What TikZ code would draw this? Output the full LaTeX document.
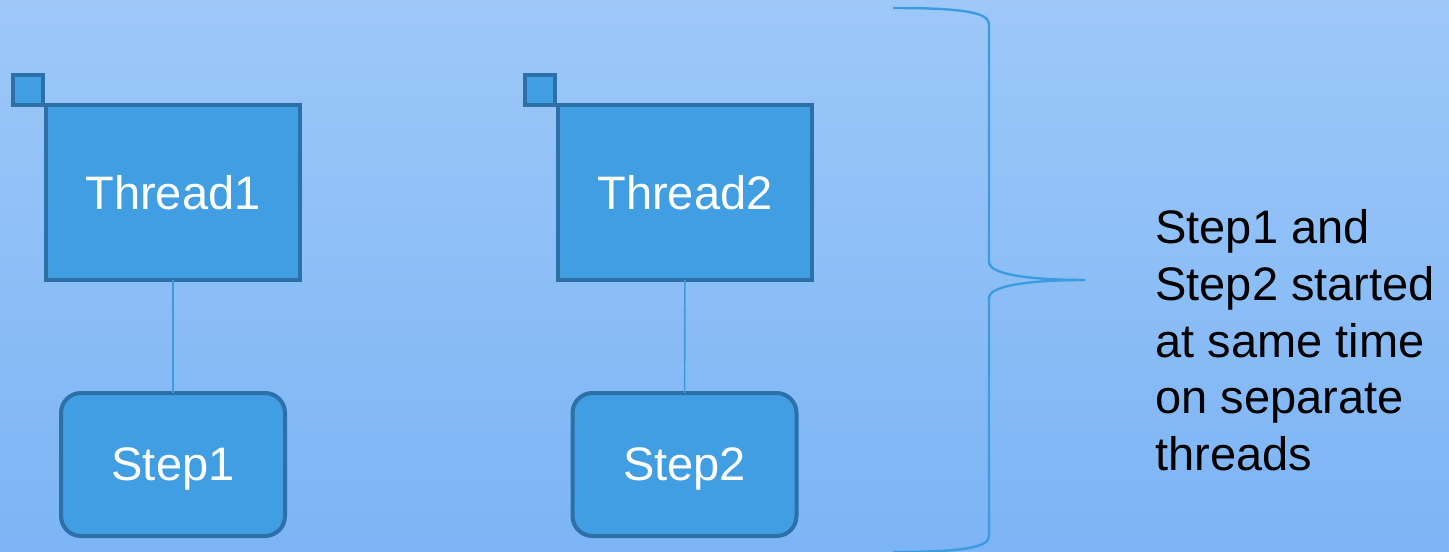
\documentclass[tikz,border=0pt]{standalone}
\usepackage{fontspec}
\setmainfont{Liberation Sans}
\usetikzlibrary{positioning}
\definecolor{bgtop}{HTML}{9DC8F8}
\definecolor{bgbot}{HTML}{7CB4F5}
\definecolor{boxfill}{HTML}{419EE3}
\definecolor{boxline}{HTML}{2C70A7}
\definecolor{linkline}{HTML}{3D9BE0}

\begin{document}
\begin{tikzpicture}[x=0.5pt, y=-0.5pt,
  thread/.style={draw=boxline, fill=boxfill, line width=2pt, minimum width=127pt, minimum height=87.5pt, outer sep=0pt, text=white, font=\fontsize{23.5}{28}\selectfont},
  tab/.style={draw=boxline, fill=boxfill, line width=2pt, minimum size=15pt, inner sep=0pt, outer sep=0pt},
  stepbox/.style={draw=boxline, fill=boxfill, line width=2pt, rounded corners=10pt, minimum width=112pt, minimum height=71.5pt, outer sep=0pt, text depth=0pt, text=white, font=\fontsize{23.5}{28}\selectfont},
  link/.style={draw=linkline, line width=0.8pt},
  brace/.style={draw=linkline, line width=1.2pt},
  note/.style={align=left, inner sep=0pt, font=\fontsize{23.5}{28.4}\selectfont}
]
% Background
\useasboundingbox (0,0) rectangle (1449,551);
\shade[top color=bgtop, bottom color=bgbot] (0,0) rectangle (1449,551);

% Threads
\node[thread] (t1) at (173,192.5) {Thread1};
\node[thread] (t2) at (685,192.5) {Thread2};
\node[tab, anchor=south east, xshift=-1.5pt] (t1tab) at (t1.north west) {};
\node[tab, anchor=south east, xshift=-1.5pt] (t2tab) at (t2.north west) {};

% Steps
\node[stepbox] (s1) at (173,464.5) {Step1};
\node[stepbox] (s2) at (684.5,464.5) {Step2};

% Links
\draw[link] (t1) -- (s1);
\draw[link] (t2) -- (s2);

% Brace
\coordinate (bracetop) at (893,8);
\coordinate (bracetip) at (1085,280);
\coordinate (bracebot) at (893,552);
\draw[brace] (bracetop) .. controls (960,8) and (989,12) .. (989,24) -- (989,262)
  .. controls (989,276) and (1040,280) .. (bracetip);
\draw[brace] (bracetip) .. controls (1040,280) and (989,284) .. (989,298) -- (989,536)
  .. controls (989,548) and (960,552) .. (bracebot);

% Note
\node[note, anchor=north west] (note) at (1155,209) {Step1 and\\Step2 started\\at same time\\on separate\\threads};
\end{tikzpicture}
\end{document}
